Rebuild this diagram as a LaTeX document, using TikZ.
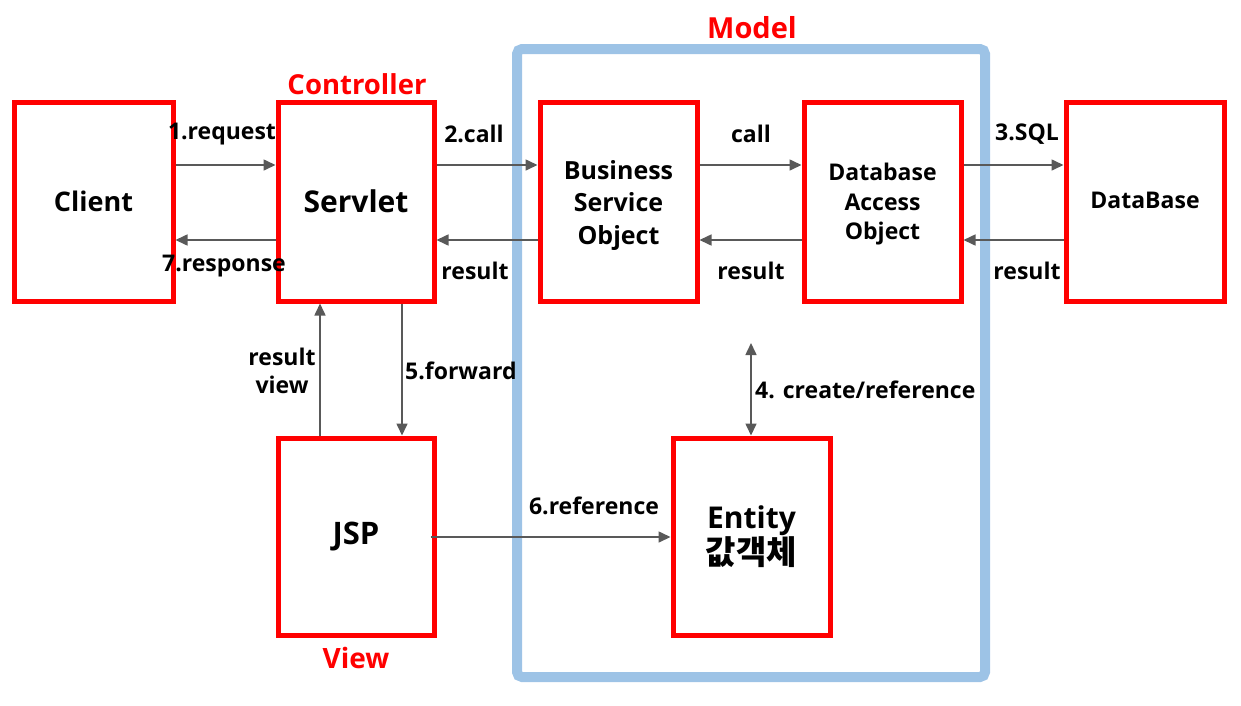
\documentclass[tikz,border=0pt]{standalone}
\usepackage{fontspec}
\setmainfont{Open Sans}
\newfontfamily\kr{Noto Sans CJK KR Bold}
\usetikzlibrary{arrows.meta}
\definecolor{boxred}{HTML}{FF0000}
\definecolor{modelblue}{HTML}{9DC3E6}
\definecolor{arrgray}{HTML}{595959}
\tikzset{
  redbox/.style={draw=boxred, line width=5pt, minimum width=158pt, minimum height=199pt, inner sep=0pt, align=center},
  arr/.style={draw=arrgray, line width=1.6pt, -{Triangle[length=12pt,width=11pt]}},
  darr/.style={draw=arrgray, line width=1.6pt, {Triangle[length=12pt,width=11pt]}-{Triangle[length=12pt,width=11pt]}},
  lbl/.style={font=\fontsize{23}{28}\selectfont\bfseries, inner sep=0pt},
  redlbl/.style={font=\fontsize{27.5}{32}\selectfont\bfseries, text=boxred, inner sep=0pt},
}
\begin{document}
\begin{tikzpicture}[x=1pt,y=-1pt]
\useasboundingbox (0,0) rectangle (1241,705);
% Model container
\draw[modelblue, line width=10pt, rounded corners=5pt] (517,49) rectangle (985,677);
\node[redlbl, font=\fontsize{29}{32}\selectfont\bfseries] (modellbl) at (752,28) {Model};
\node[redlbl] (ctrllbl) at (357,84) {Controller};
\node[redlbl, font=\fontsize{28}{32}\selectfont\bfseries] (viewlbl) at (356,658) {View};
% boxes
\node[redbox, minimum width=159pt, font=\fontsize{27}{32}\selectfont\bfseries] (client) at (93.5,201.5) {Client};
\node[redbox, minimum width=156pt, font=\fontsize{30}{34}\selectfont\bfseries] (servlet) at (356,201.5) {Servlet};
\node[redbox, minimum width=157pt, font=\fontsize{25}{32.5}\selectfont\bfseries] (bso) at (618.5,201.5)
  {\raisebox{-3.5pt}[\height][\depth]{\begin{tabular}{@{}c@{}}Business\\Service\\Object\end{tabular}}};
\node[redbox, minimum width=157pt, font=\fontsize{23}{29.5}\selectfont\bfseries] (dao) at (882.5,201.5)
  {\raisebox{-3pt}[\height][\depth]{\begin{tabular}{@{}c@{}}Database\\Access\\Object\end{tabular}}};
\node[redbox, minimum width=158pt, font=\fontsize{23}{28}\selectfont\bfseries] (db) at (1145,201.5) {\raisebox{1pt}[\height][\depth]{DataBase}};
\node[redbox, minimum width=156pt, minimum height=197pt, font=\fontsize{31}{34}\selectfont\bfseries] (jsp) at (356,536.5) {JSP};
\node[redbox, minimum width=157pt, minimum height=197pt, font=\fontsize{30}{34}\selectfont\bfseries] (entity) at (751.5,536.5) {Entity\\{\kr\fontsize{33}{34}\selectfont 값객체}};
% reference rows
\coordinate (rowA) at (0,165);
\coordinate (rowB) at (0,240);
\coordinate (rowC) at (0,537);
\coordinate (colRV) at (320,0);
\coordinate (colFW) at (402,0);
\coordinate (colCR) at (751,0);
\coordinate (crtop) at (751,343);
% horizontal arrows
\draw[arr] (client.east |- rowA) -- (servlet.west |- rowA);
\draw[arr] (servlet.west |- rowB) -- (client.east |- rowB);
\draw[arr] (servlet.east |- rowA) -- (bso.west |- rowA);
\draw[arr] (bso.west |- rowB) -- (servlet.east |- rowB);
\draw[arr] (bso.east |- rowA) -- (dao.west |- rowA);
\draw[arr] (dao.west |- rowB) -- (bso.east |- rowB);
\draw[arr] (dao.east |- rowA) -- (db.west |- rowA);
\draw[arr] (db.west |- rowB) -- (dao.east |- rowB);
% vertical arrows
\draw[arr] (colRV |- jsp.north) -- (colRV |- servlet.south);
\draw[arr] (colFW |- servlet.south) -- (colFW |- jsp.north);
\draw[darr] (crtop) -- (colCR |- entity.north);
\draw[arr] ([xshift=-6pt]jsp.east |- rowC) -- (entity.west |- rowC);
% labels
\node[lbl] (l1) at (222,134) {1.request};
\node[lbl] (l7) at (224,266) {7.response};
\node[lbl] (l2) at (474,134) {2.call};
\node[lbl] (lr1) at (475,271) {result};
\node[lbl] (lc) at (751,134) {call};
\node[lbl] (lr2) at (751,271) {result};
\node[lbl] (l3) at (1027,134) {3.SQL};
\node[lbl] (lr3) at (1027,271) {result};
\node[lbl, align=center, font=\fontsize{23}{28}\selectfont\bfseries] (lrv) at (282,371) {result\\view};
\node[lbl, anchor=west] (l5) at (405,371) {5.forward};
\node[lbl, anchor=west] (l4) at (755,390) {4. create/reference};
\node[lbl] (l6) at (594,506) {6.reference};
\end{tikzpicture}
\end{document}
